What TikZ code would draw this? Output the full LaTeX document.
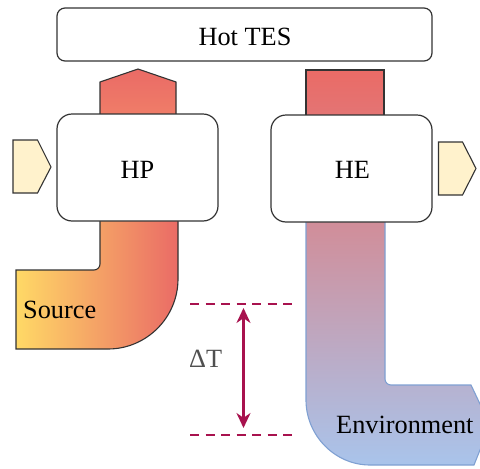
\documentclass[tikz,border=0pt]{standalone}
\usepackage{fontspec}
\setmainfont{Liberation Serif}
\usetikzlibrary{arrows.meta}
\definecolor{bord}{HTML}{333333}
\definecolor{penfill}{HTML}{FFF2CC}
\definecolor{hotred}{HTML}{EA6B66}
\definecolor{hporange}{HTML}{F07E68}
\definecolor{srcyellow}{HTML}{FFD966}
\definecolor{envtopbot}{HTML}{E37575}
\definecolor{envmid}{HTML}{D28C97}
\definecolor{envblue}{HTML}{A9C4EB}
\definecolor{envline}{HTML}{7FA0D2}
\definecolor{dtred}{HTML}{A8124E}
\definecolor{dtgray}{HTML}{505050}
\tikzset{
  box/.style={draw=bord, line width=1.2pt, fill=white},
  pent/.style={draw=bord, line width=1.1pt, fill=penfill},
  lbl/.style={font=\fontsize{26.3}{30}\selectfont, inner sep=0pt, anchor=base},
  lbll/.style={font=\fontsize{26.3}{30}\selectfont, inner sep=0pt, anchor=base west},
  dtline/.style={draw=dtred, line width=2pt, dash pattern=on 9pt off 6.5pt},
  dtarrow/.style={draw=dtred, line width=2.4pt, {Stealth[length=15pt,width=14pt]}-{Stealth[length=15pt,width=14pt]}}
}
\begin{document}
\begin{tikzpicture}[x=1pt,y=-1pt]
\useasboundingbox (0,0) rectangle (480,469);
\clip (0,0) rectangle (480,469);
% HP upward arrow
\path[draw=bord, line width=1.1pt, top color=hotred, bottom color=hporange]
  (100,118) -- (100,82) -- (138,69) -- (176,82) -- (176,118) -- cycle;
% HE top bar
\path[draw=bord, line width=1.1pt, top color=hotred, bottom color=envtopbot]
  (306,118) -- (306,70) -- (384,70) -- (384,118) -- cycle;
% Source pipe
\path[draw=bord, line width=1.1pt, left color=srcyellow, right color=hotred]
  (100,214) [rounded corners=6pt] -- (100,270) [sharp corners] -- (16,270) -- (16,349) -- (108,349)
  .. controls (146.7,349) and (178,317.3) .. (178,279) -- (178,214);
% Environment pipe
\path[draw=envline, line width=1.1pt, top color=envmid, bottom color=envblue]
  (306,216) -- (306,400) .. controls (306,435.3) and (334.7,465) .. (370,465)
  -- (474,465) -- (490,425) -- (471,385) [rounded corners=6pt] -- (385,385) [sharp corners] -- (385,216);
% Boxes
\draw[box, rounded corners=8pt] (57,8) rectangle (432,61);
\draw[box, rounded corners=15pt] (57,114) rectangle (218,221);
\draw[box, rounded corners=15pt] (271,115) rectangle (432,222);
\node[lbl] (tes) at (245,45) {Hot TES};
\node[lbl] (hp) at (137.5,178.3) {HP};
\node[lbl] (he) at (352.5,178.3) {HE};
% Pentagons
\draw[pent] (13,140) -- (37.5,140) -- (51,167) -- (37.5,193) -- (13,193) -- cycle;
\draw[pent] (438.5,142) -- (462.5,142) -- (476,168.5) -- (462.5,195) -- (438.5,195) -- cycle;
% Labels
\node[lbll] (src) at (23,318) {Source};
\node[lbll] (env) at (336,433.3) {Environment};
% Delta T
\coordinate (d1a) at (190,304);
\coordinate (d1b) at (298,304);
\coordinate (d2a) at (190,434.5);
\coordinate (d2b) at (298,434.5);
\coordinate (at) at (243.5,308);
\coordinate (ab) at (243.5,428);
\draw[dtline] (d1a) -- (d1b);
\draw[dtline] (d2a) -- (d2b);
\draw[dtarrow] (at) -- (ab);
\node[lbll, text=dtgray] (dt) at (189,367.3) {ΔT};
\end{tikzpicture}
\end{document}
